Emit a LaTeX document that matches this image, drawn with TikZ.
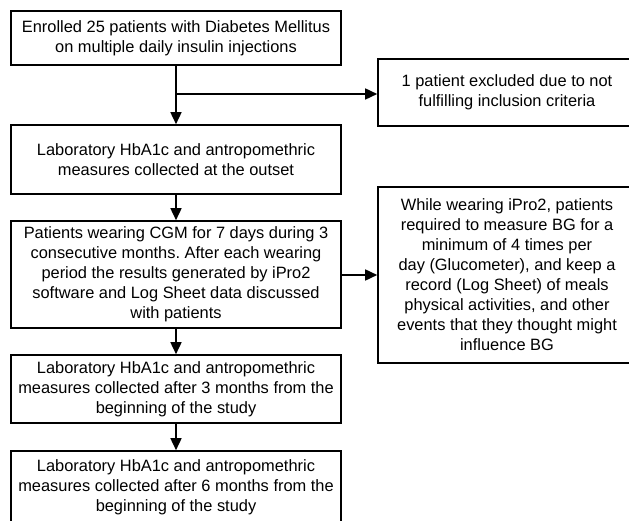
\documentclass[tikz,border=0pt]{standalone}
\usepackage{fontspec}
\setmainfont{Liberation Sans}
\usetikzlibrary{arrows.meta}
\frenchspacing
\begin{document}
\begin{tikzpicture}[x=1pt,y=-1pt,
 box/.style={draw,line width=1.6pt,align=center,inner sep=0pt,font=\fontsize{16.4}{20}\selectfont},
 arr/.style={line width=1.6pt,-{Triangle[length=12pt,width=11pt]}},
 ln/.style={line width=1.6pt}]
\useasboundingbox (0,0) rectangle (629,521);
\clip (0,0) rectangle (629,521);
\node[box,minimum width=330,minimum height=54] (b1) at (176,38)
  {Enrolled 25 patients with Diabetes Mellitus\\on multiple daily insulin injections};
\node[box,minimum width=330,minimum height=69] (b2) at (176,159.5)
  {Laboratory HbA1c and antropomethric\\measures collected at the outset};
\node[box,minimum width=330,minimum height=107] (b3) at (176,274.5)
  {Patients wearing CGM for 7 days during 3\\consecutive months. After each wearing\\period the results generated by iPro2\\software and Log Sheet data discussed\\with patients};
\node[box,minimum width=330,minimum height=68] (b4) at (176,389)
  {Laboratory HbA1c and antropomethric\\measures collected after 3 months from the\\beginning of the study};
\node[box,minimum width=330,minimum height=72] (b5) at (176,487)
  {Laboratory HbA1c and antropomethric\\measures collected after 6 months from the\\beginning of the study};
\node[box,minimum width=258,minimum height=67] (r1) at (507,92.5)
  {1 patient excluded due to not\\fulfilling inclusion criteria};
\node[box,minimum width=258,minimum height=176] (r2) at (507,275)
  {While wearing iPro2, patients\\required to measure BG for a\\minimum of 4 times per\\day (Glucometer), and keep a\\record (Log Sheet) of meals\\physical activities, and other\\events that they thought might\\influence BG};
\coordinate (j) at (176,94);
\draw[ln] (b1.south) -- (j);
\draw[arr] (j) -- (b2.north);
\draw[arr] (j) -- (j -| r1.west);
\draw[arr] (b2) -- (b3);
\draw[arr] (b3.east |- r2.west) -- (r2.west);
\draw[arr] (b3) -- (b4);
\draw[arr] (b4) -- (b5);
\end{tikzpicture}
\end{document}
